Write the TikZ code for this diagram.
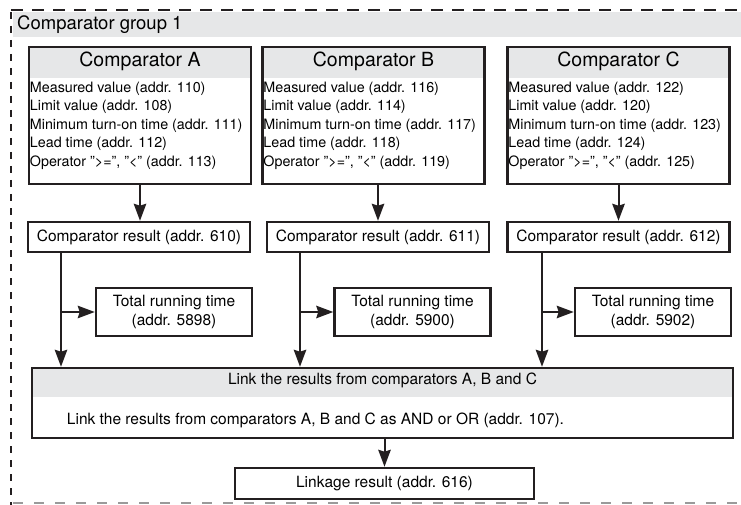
\documentclass[tikz,border=0pt]{standalone}
\usepackage{fontspec}
\setmainfont{TeX Gyre Heros}
\usepackage{tikz}
\usetikzlibrary{arrows.meta,positioning,calc}
\definecolor{bandgray}{HTML}{E6E7E8}
\definecolor{framegray}{HTML}{9A9A9A}
\definecolor{ink}{HTML}{231F20}

\begin{document}
\begin{tikzpicture}[x=1pt,y=-1pt,>={Stealth[length=17pt,width=12.5pt,inset=2pt]},
  box/.style={draw=ink,line width=2.5pt,inner sep=0pt},
  band/.style={path picture={\fill[bandgray] (path picture bounding box.north west) rectangle ([yshift=-#1]path picture bounding box.north east);}},
  compbox/.style={box,band=31pt,minimum width=222pt,minimum height=137pt},
  resbox/.style={box,minimum width=222pt,minimum height=30pt,font=\fontsize{15.5}{19}\selectfont},
  totbox/.style={box,minimum width=156pt,minimum height=48pt,align=center,font=\fontsize{15.5}{19.5}\selectfont},
  titletext/.style={inner sep=0pt,font=\fontsize{19.5}{23}\selectfont},
  listtext/.style={inner sep=0pt,align=left,font=\fontsize{14.3}{18.5}\selectfont},
  arr/.style={->,draw=ink,line width=2pt}]
\useasboundingbox (0,0) rectangle (741,505);

% comparator group frame
\fill[bandgray] (13,12) rectangle (741,37);
\draw[ink,line width=1.6pt,dash pattern=on 12pt off 9pt] (11,10) -- (741,10);
\draw[ink,line width=1.8pt,dash pattern=on 7pt off 7pt] (11,12) -- (11,505);
\draw[framegray,line width=1.6pt,dash pattern=on 10pt off 11pt] (13,503) -- (741,503);
\node[anchor=west,inner sep=0pt,font=\fontsize{18.5}{22}\selectfont] (group) at (17,25) {Comparator group 1};

% comparators
\node[compbox] (compA) at (140,115.5) {};
\node[compbox] (compB) at (373.5,115.5) {};
\node[compbox] (compC) at (618.5,115.5) {};
\node[titletext] (nameA) at ([yshift=-16pt]compA.north) {Comparator A};
\node[titletext] (nameB) at ([yshift=-16pt]compB.north) {Comparator B};
\node[titletext] (nameC) at ([yshift=-16pt]compC.north) {Comparator C};
\node[listtext,anchor=north west] (listA) at ([xshift=2pt,yshift=-36pt]compA.north west)
  {Measured value (addr. 110)\\Limit value (addr. 108)\\Minimum turn-on time (addr. 111)\\Lead time (addr. 112)\\Operator ">=", "<" (addr. 113)};
\node[listtext,anchor=north west] (listB) at ([xshift=2pt,yshift=-36pt]compB.north west)
  {Measured value (addr. 116)\\Limit value (addr. 114)\\Minimum turn-on time (addr. 117)\\Lead time (addr. 118)\\Operator ">=", "<" (addr. 119)};
\node[listtext,anchor=north west] (listC) at ([xshift=2pt,yshift=-36pt]compC.north west)
  {Measured value (addr. 122)\\Limit value (addr. 120)\\Minimum turn-on time (addr. 123)\\Lead time (addr. 124)\\Operator ">=", "<" (addr. 125)};

% results
\node[resbox] (resA) at (139,237) {Comparator result (addr. 610)};
\node[resbox] (resB) at (378,237) {Comparator result (addr. 611)};
\node[resbox] (resC) at (618.5,237) {Comparator result (addr. 612)};
\node[totbox] (totA) at (174,312) {Total running time\\(addr. 5898)};
\node[totbox] (totB) at (412.5,312) {Total running time\\(addr. 5900)};
\node[totbox] (totC) at (653,312) {Total running time\\(addr. 5902)};

% linkage
\node[box,band=29pt,minimum width=701pt,minimum height=70pt] (link) at (382.5,403) {};
\node[inner sep=0pt,font=\fontsize{15.5}{19}\selectfont] (linktitle) at ([yshift=-14pt]link.north) {Link the results from comparators A, B and C};
\node[inner sep=0pt,anchor=west,font=\fontsize{15.5}{19}\selectfont] (linktext) at ([xshift=36pt,yshift=-17pt]link.west) {Link the results from comparators A, B and C as AND or OR (addr. 107).};
\node[box,minimum width=299pt,minimum height=31pt,font=\fontsize{15.5}{19}\selectfont] (linkres) at (384.5,483.5) {Linkage result (addr. 616)};

\coordinate (tapA) at (61,312);
\coordinate (tapB) at (300,312);
\coordinate (tapC) at (542,312);

\draw[arr] (compA.south) -- (resA.north -| compA.south);
\draw[arr] (compB.south -| resB.north) -- (resB.north);
\draw[arr] (compC.south) -- (resC.north -| compC.south);
\draw[arr] (tapA |- resA.south) -- (tapA |- link.north);
\draw[arr] (tapB |- resB.south) -- (tapB |- link.north);
\draw[arr] (tapC |- resC.south) -- (tapC |- link.north);
\draw[arr] (tapA) -- (totA.west);
\draw[arr] (tapB) -- (totB.west);
\draw[arr] (tapC) -- (totC.west);
\draw[arr] (link.south -| linkres.north) -- (linkres.north);
\end{tikzpicture}
\end{document}
